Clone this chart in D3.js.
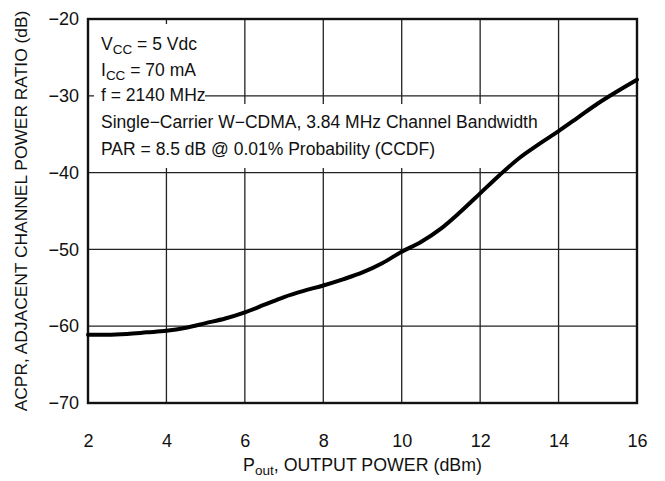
<!DOCTYPE html>
<html>
<head>
<meta charset="utf-8">
<script src="https://cdn.jsdelivr.net/npm/d3@7"></script>
<style>
  body { margin: 0; background: #fff; }
  svg text { font-family: "Liberation Sans", Arial, sans-serif; fill: #111; }
</style>
</head>
<body>
<svg id="chart" width="665" height="481"></svg>
<script>
// curve (Pout in dBm, ACPR in dB)
const pout = [2, 2.5, 3, 3.5, 4, 4.5, 5, 5.5, 6, 6.5, 7, 7.5, 8, 8.5, 9, 9.5, 10, 10.5, 11, 11.5, 12, 12.5, 13, 13.5, 14, 14.5, 15, 15.5, 16]
const acpr = [-61.1, -61.1, -61.0, -60.8, -60.6, -60.2, -59.6, -59.0, -58.2, -57.2, -56.2, -55.4, -54.7, -53.9, -53.0, -51.8, -50.3, -49.0, -47.3, -45.1, -42.7, -40.3, -38.1, -36.3, -34.6, -32.8, -31.0, -29.4, -27.9]
const xTicks = [2, 4, 6, 8, 10, 12, 14, 16]
const yTicks = [-20, -30, -40, -50, -60, -70]
const notes1 = ["V|CC| = 5 Vdc", "I|CC| = 70 mA", "f = 2140 MHz"]
const notes2 = ["Single\u2212Carrier W\u2212CDMA, 3.84 MHz Channel Bandwidth", "PAR = 8.5 dB @ 0.01% Probability (CCDF)"]

const svg = d3.select('#chart')
const m = {left: 88, top: 19, right: 637, bottom: 403}

const x = d3.scaleLinear().domain([2, 16]).range([m.left, m.right])
const y = d3.scaleLinear().domain([-70, -20]).range([m.bottom, m.top])

// gridlines
const grid = svg.append('g')
grid.selectAll('line.v').data(xTicks).enter().append('line')
  .attr('x1', d => x(d)).attr('x2', d => x(d))
  .attr('y1', m.top).attr('y2', m.bottom)
  .attr('stroke', '#222').attr('stroke-width', 1.3)
grid.selectAll('line.h').data(yTicks).enter().append('line')
  .attr('x1', m.left).attr('x2', m.right)
  .attr('y1', d => y(d)).attr('y2', d => y(d))
  .attr('stroke', '#222').attr('stroke-width', 1.3)

// white boxes behind the notes
svg.append('rect').attr('x', 94).attr('y', 24).attr('width', 111).attr('height', 80).attr('fill', '#fff')
svg.append('rect').attr('x', 94).attr('y', 104).attr('width', 448).attr('height', 64).attr('fill', '#fff')

// frame
svg.append('rect').attr('x', m.left).attr('y', m.top)
  .attr('width', m.right - m.left).attr('height', m.bottom - m.top)
  .attr('fill', 'none').attr('stroke', '#111').attr('stroke-width', 2.4)

// tick labels via d3 axes, lines removed
svg.append('g').attr('transform', `translate(0,${m.bottom})`)
  .call(d3.axisBottom(x).tickValues(xTicks).tickSize(0).tickPadding(31))
svg.append('g').attr('transform', `translate(${m.left},0)`)
  .call(d3.axisLeft(y).tickValues(yTicks).tickSize(0).tickPadding(9)
    .tickFormat(d => String(d).replace('-', '\u2212')))
svg.selectAll('.domain').remove()
svg.selectAll('.tick text').attr('font-size', 18)
  .style('font-family', '"Liberation Sans", Arial, sans-serif').attr('fill', '#111')

// curve
const line = d3.line().x((d, i) => x(pout[i])).y(d => y(d)).curve(d3.curveMonotoneX)
svg.append('path').datum(acpr).attr('d', line)
  .attr('fill', 'none').attr('stroke', '#000').attr('stroke-width', 4).attr('stroke-linecap', 'round')

// notes
function addNote(str, xx, yy) {
  const t = svg.append('text').attr('x', xx).attr('y', yy).attr('font-size', 17.5)
  const parts = str.split('|')
  parts.forEach((p, i) => {
    const s = t.append('tspan').text(p)
    if (i % 2 === 1) s.attr('font-size', 13.5).attr('dy', 4)
    else if (i > 0) s.attr('dy', -4)
  })
}
notes1.forEach((s, i) => addNote(s, 101, 50 + i * 25.5))
notes2.forEach((s, i) => addNote(s, 101, 128 + i * 26.5))

// axis titles
const xt = svg.append('text').attr('x', (m.left + m.right) / 2).attr('y', 471)
  .attr('text-anchor', 'middle').attr('font-size', 17.8)
xt.append('tspan').text('P')
xt.append('tspan').text('out').attr('font-size', 13.5).attr('dy', 4)
xt.append('tspan').text(', OUTPUT POWER (dBm)').attr('dy', -4)

svg.append('text').attr('transform', `translate(27,${(m.top + m.bottom) / 2}) rotate(-90)`)
  .attr('text-anchor', 'middle').attr('font-size', 17.4)
  .text('ACPR, ADJACENT CHANNEL POWER RATIO (dB)')
</script>
</body>
</html>
